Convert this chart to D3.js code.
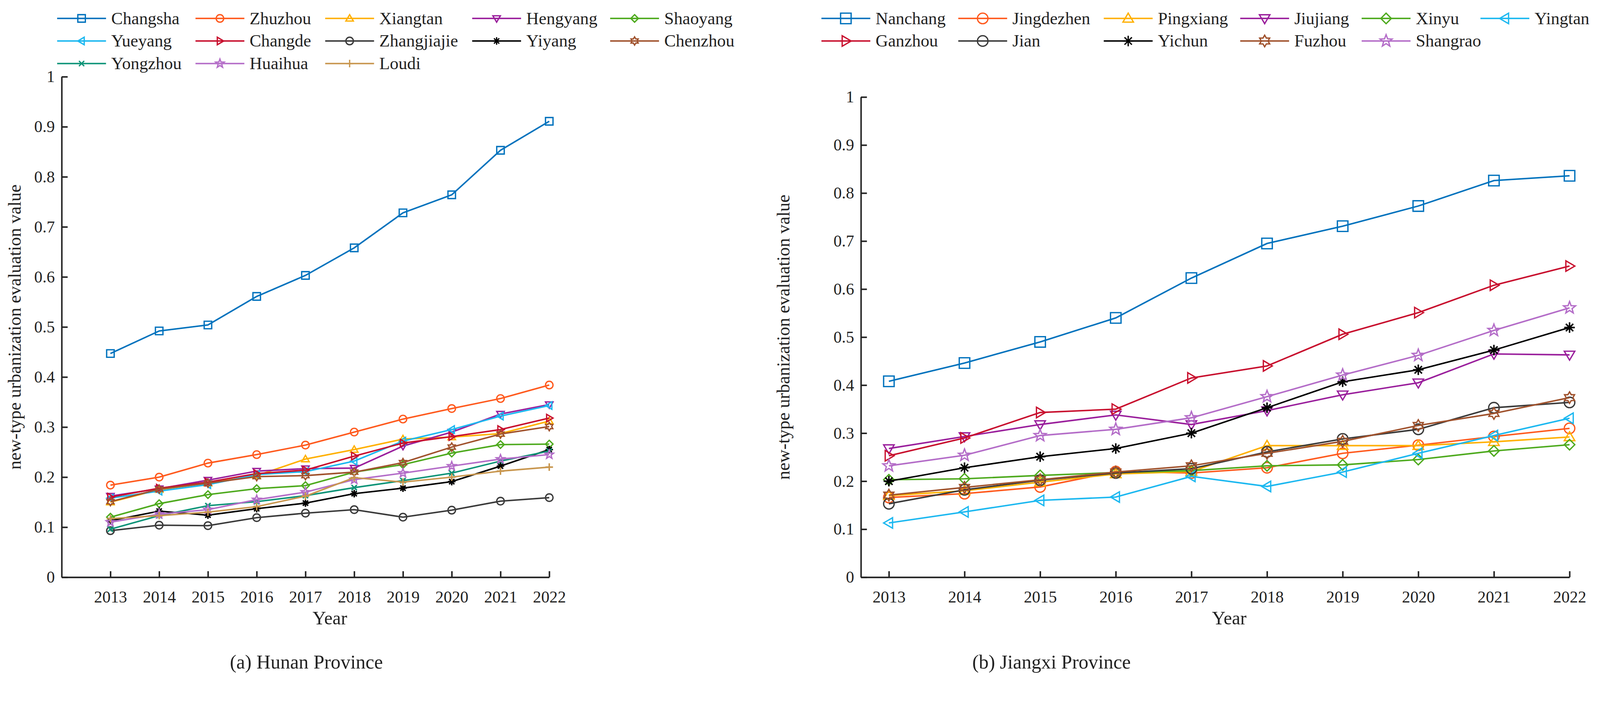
<!DOCTYPE html>
<html>
<head>
<script src="https://d3js.org/d3.v7.min.js"></script>
<style>html,body{margin:0;background:#fff;overflow:hidden}svg{display:block}text{font-family:"Liberation Serif","DejaVu Serif",serif;fill:#222}</style>
</head>
<body>
<div id="chart"></div>
<script>
var years = [2013,2014,2015,2016,2017,2018,2019,2020,2021,2022];
var yTicks = [0,0.1,0.2,0.3,0.4,0.5,0.6,0.7,0.8,0.9,1];

var hunanCities = ["Changsha","Zhuzhou","Xiangtan","Hengyang","Shaoyang","Yueyang","Changde","Zhangjiajie","Yiyang","Chenzhou","Yongzhou","Huaihua","Loudi"];
var hunanValues = [
  [.447,.492,.504,.561,.603,.658,.728,.764,.853,.911],
  [.184,.200,.228,.245,.264,.290,.316,.337,.357,.384],
  [.150,.175,.188,.203,.236,.255,.276,.280,.287,.312],
  [.162,.177,.194,.212,.217,.218,.262,.290,.326,.345],
  [.120,.147,.165,.177,.183,.210,.225,.248,.265,.266],
  [.158,.172,.185,.205,.211,.232,.272,.295,.322,.343],
  [.160,.178,.190,.207,.214,.242,.268,.281,.295,.318],
  [.093,.104,.103,.119,.128,.135,.120,.134,.152,.159],
  [.113,.132,.124,.137,.148,.167,.178,.191,.222,.255],
  [.151,.176,.188,.201,.203,.210,.229,.260,.286,.301],
  [.096,.123,.143,.151,.163,.179,.193,.208,.232,.252],
  [.110,.126,.135,.155,.170,.195,.208,.222,.236,.245],
  [.117,.123,.130,.141,.162,.199,.190,.200,.212,.220]
];
var hunanColors = ["#0072BD","#FF5A1E","#FFB000","#9A1F9C","#4EAA1E","#1CB8F0","#C8102E","#3A3A3A","#000000","#A0522D","#0E9478","#B46DC8","#C8964E"];
var hunanMarkers = ["square","circle","tri-up","tri-down","diamond","tri-left","tri-right","circle","asterisk","hexagram","x","pentagram","plus"];

var jiangxiCities = ["Nanchang","Jingdezhen","Pingxiang","Jiujiang","Xinyu","Yingtan","Ganzhou","Jian","Yichun","Fuzhou","Shangrao"];
var jiangxiValues = [
  [.408,.446,.490,.540,.623,.695,.731,.773,.826,.836],
  [.166,.174,.188,.220,.217,.228,.258,.275,.293,.310],
  [.170,.180,.198,.215,.220,.274,.274,.274,.282,.292],
  [.268,.293,.318,.338,.318,.347,.380,.405,.465,.463],
  [.203,.205,.212,.218,.222,.232,.234,.245,.263,.276],
  [.113,.136,.160,.167,.210,.189,.219,.258,.295,.331],
  [.253,.290,.343,.350,.415,.440,.506,.551,.608,.648],
  [.153,.182,.202,.217,.226,.261,.288,.308,.353,.364],
  [.200,.228,.251,.268,.300,.353,.407,.432,.473,.520],
  [.171,.187,.203,.219,.232,.258,.283,.316,.341,.374],
  [.232,.254,.295,.308,.332,.376,.421,.462,.514,.561]
];
var jiangxiColors = ["#0072BD","#FF5A1E","#FFB000","#9A1F9C","#4EAA1E","#1CB8F0","#C8102E","#3A3A3A","#000000","#A0522D","#B46DC8"];
var jiangxiMarkers = ["square","circle","tri-up","tri-down","diamond","tri-left","tri-right","circle","asterisk","hexagram","pentagram"];

var W = 4256, H = 1812;
var svg = d3.select("#chart").append("svg")
  .attr("viewBox", "0 0 " + W + " " + H)
  .style("width", "100vw").style("height", "auto");

function star(n, r, inner) {
  var p = [];
  for (var i = 0; i < 2 * n; i++) {
    var a = Math.PI * i / n - Math.PI / 2, rr = i % 2 ? r * inner : r;
    p.push([rr * Math.cos(a), rr * Math.sin(a)]);
  }
  return "M" + p.join("L") + "Z";
}
function markerPath(t, r) {
  switch (t) {
    case "square": return "M"+-r+","+-r+"H"+r+"V"+r+"H"+-r+"Z";
    case "circle": return "M"+-r+",0A"+r+","+r+" 0 1,0 "+r+",0A"+r+","+r+" 0 1,0 "+-r+",0Z";
    case "tri-up": return "M0,"+-r+"L"+r+","+r*0.7+"L"+-r+","+r*0.7+"Z";
    case "tri-down": return "M0,"+r+"L"+r+","+-r*0.7+"L"+-r+","+-r*0.7+"Z";
    case "tri-left": return "M"+-r+",0L"+r*0.7+","+-r+"L"+r*0.7+","+r+"Z";
    case "tri-right": return "M"+r+",0L"+-r*0.7+","+-r+"L"+-r*0.7+","+r+"Z";
    case "diamond": return "M0,"+-r+"L"+r+",0L0,"+r+"L"+-r+",0Z";
    case "x": return "M"+-r*0.7+","+-r*0.7+"L"+r*0.7+","+r*0.7+"M"+r*0.7+","+-r*0.7+"L"+-r*0.7+","+r*0.7;
    case "plus": return "M"+-r+",0H"+r+"M0,"+-r+"V"+r;
    case "asterisk": return "M"+-r+",0H"+r+"M0,"+-r+"V"+r+"M"+-r*0.7+","+-r*0.7+"L"+r*0.7+","+r*0.7+"M"+r*0.7+","+-r*0.7+"L"+-r*0.7+","+r*0.7;
    case "hexagram": return star(6, r*1.1, 0.58);
    case "pentagram": return star(5, r*1.2, 0.42);
  }
}
function filled(t) { return t === "asterisk" || t === "x" || t === "plus"; }

function panel(o) {
  var x = d3.scaleLinear().domain([o.x0, 2022]).range([o.left, o.right]);
  var y = d3.scaleLinear().domain([0, 1]).range([1535, o.top]);
  var g = svg.append("g");

  var xa = g.append("g").attr("transform", "translate(0,1535)")
    .call(d3.axisBottom(x).tickValues(years).tickFormat(d3.format("d")).tickSizeInner(-16).tickSizeOuter(0).tickPadding(36));
  var ya = g.append("g").attr("transform", "translate(" + o.left + ",0)")
    .call(d3.axisLeft(y).tickValues(yTicks).tickFormat(function(d){ return d === 0 ? "0" : d === 1 ? "1" : d3.format(".1f")(d); }).tickSizeInner(-16).tickSizeOuter(0).tickPadding(18));
  [xa, ya].forEach(function(a){
    a.selectAll("path,line").attr("stroke", "#222").attr("stroke-width", 4);
    a.selectAll("text").attr("font-size", 44).attr("fill", "#222").attr("font-family", "Liberation Serif");
  });

  var line = d3.line().x(function(d, i){ return x(years[i]); }).y(function(d){ return y(d); });
  o.values.forEach(function(vals, k) {
    var c = o.colors[k], m = o.markers[k];
    g.append("path").datum(vals).attr("d", line).attr("fill", "none").attr("stroke", c).attr("stroke-width", 4);
    g.selectAll(null).data(vals).enter().append("path")
      .attr("transform", function(d, i){ return "translate(" + x(years[i]) + "," + y(d) + ")"; })
      .attr("d", markerPath(m, o.ms)).attr("fill", "none").attr("stroke", c).attr("stroke-width", filled(m) ? 4 : 3.5);
  });

  g.append("text").attr("transform", "translate(" + o.ylabX + "," + ((1535 + o.top) / 2) + ") rotate(-90)")
    .attr("text-anchor", "middle").attr("font-size", 48).text("new-type urbanization evaluation value");
  g.append("text").attr("x", (x(2013) + x(2022)) / 2).attr("y", 1660).attr("text-anchor", "middle").attr("font-size", 50).text("Year");
  g.append("text").attr("x", o.subX).attr("y", 1778).attr("text-anchor", "middle").attr("font-size", 52).text(o.title);

  o.names.forEach(function(n, k) {
    var col = k % o.legCols.length, row = Math.floor(k / o.legCols.length);
    var lx = o.legCols[col], ly = 49 + row * 60, c = o.colors[k];
    g.append("line").attr("x1", lx).attr("x2", lx + o.legLen).attr("y1", ly).attr("y2", ly).attr("stroke", c).attr("stroke-width", 4);
    g.append("path").attr("transform", "translate(" + (lx + o.legLen / 2) + "," + ly + ")")
      .attr("d", markerPath(o.markers[k], o.ms)).attr("fill", "none").attr("stroke", c).attr("stroke-width", 3.5);
    g.append("text").attr("x", lx + o.legLen + 14).attr("y", ly + 15).attr("font-size", 46).text(n);
  });
}

panel({ x0: 2012, left: 164, right: 1461, top: 204, ms: 10, names: hunanCities, values: hunanValues,
  colors: hunanColors, markers: hunanMarkers, legCols: [152, 520, 865, 1256, 1623], legLen: 130,
  ylabX: 55, subX: 815, title: "(a) Hunan Province" });
panel({ x0: 2012.63, left: 2290, right: 4175, top: 258, ms: 14, names: jiangxiCities, values: jiangxiValues,
  colors: jiangxiColors, markers: jiangxiMarkers, legCols: [2185, 2549, 2936, 3299, 3622, 3938], legLen: 130,
  ylabX: 2100, subX: 2797, title: "(b) Jiangxi Province" });
</script>
</body>
</html>
